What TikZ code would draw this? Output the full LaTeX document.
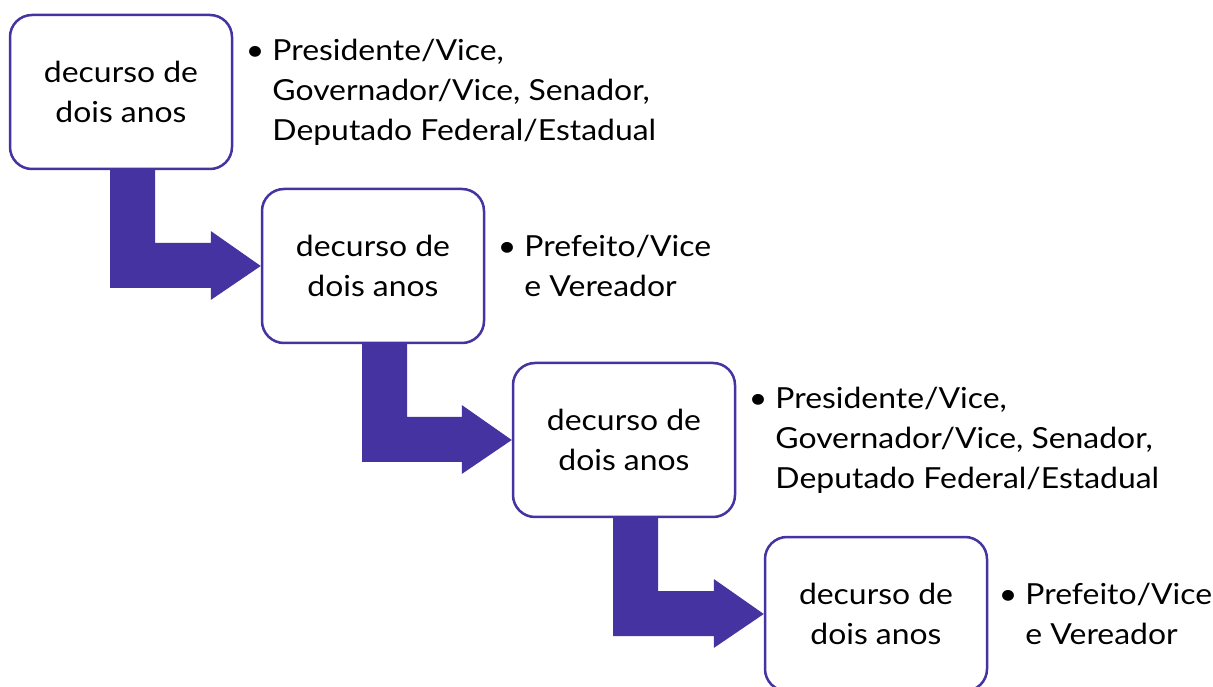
\documentclass[tikz,border=0pt]{standalone}
\usepackage{fontspec}
\setmainfont[FakeStretch=1.1]{Lato}
\usetikzlibrary{calc}
\definecolor{roxo}{RGB}{68,51,160}
\begin{document}
\begin{tikzpicture}[x=1pt,y=1pt,
    caixa/.style={draw=roxo,line width=2.5pt,fill=white,rounded corners=22pt,
      minimum width=222pt,minimum height=154pt,align=center,
      font=\fontsize{29}{40}\selectfont},
    cargos/.style={anchor=west,align=left,inner sep=0pt,
      font=\fontsize{29}{40}\selectfont},
    seta/.style={fill=roxo}]
  \useasboundingbox (0,0) rectangle (1213,686);

  \node[caixa] (c1) at (121,594) {decurso de\\dois anos};
  \node[caixa] (c2) at (373,420) {decurso de\\dois anos};
  \node[caixa] (c3) at (624,246) {decurso de\\dois anos};
  \node[caixa] (c4) at (876,72)  {decurso de\\dois anos};

  \node[cargos] (t1) at ([xshift=39pt]c1.east)
    {\llap{\textbullet\ }Presidente/Vice,\\Governador/Vice, Senador,\\Deputado Federal/Estadual};
  \node[cargos] (t2) at ([xshift=39pt]c2.east)
    {\llap{\textbullet\ }Prefeito/Vice\\e Vereador};
  \node[cargos] (t3) at ([xshift=39pt]c3.east)
    {\llap{\textbullet\ }Presidente/Vice,\\Governador/Vice, Senador,\\Deputado Federal/Estadual};
  \node[cargos] (t4) at ([xshift=37pt]c4.east)
    {\llap{\textbullet\ }Prefeito/Vice\\e Vereador};

  % setas em L entre as caixas
  \foreach \a/\b in {c1/c2,c2/c3,c3/c4}
    \fill[seta] ([xshift=-11pt]\a.south)
      |- ([xshift=-50pt,yshift=-22pt]\b.west)
      -- ++(0,-12) -- (\b.west) -- ++(-50,35) -- ++(0,-12)
      -| ([xshift=34pt]\a.south) -- cycle;
\end{tikzpicture}
\end{document}
